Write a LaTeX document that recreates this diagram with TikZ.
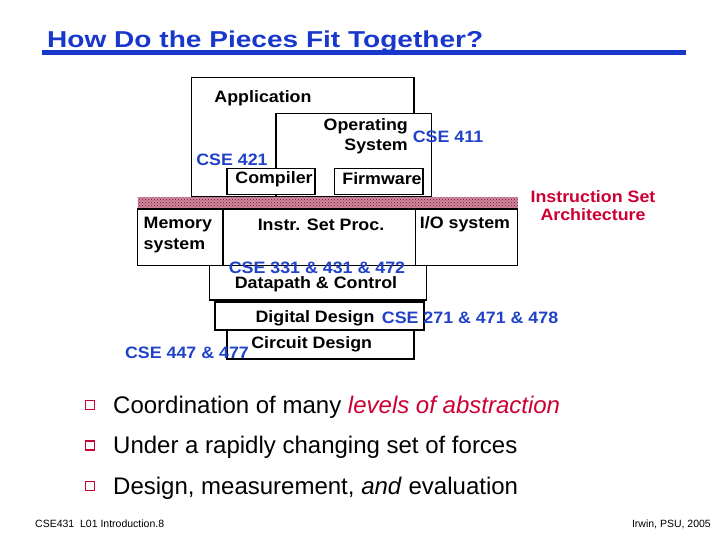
\documentclass[tikz,border=0pt]{standalone}
\usepackage{fontspec}
\setmainfont{Liberation Sans}
\newfontfamily\boxfont[FakeStretch=1.08]{Liberation Sans}
\newfontfamily\headfont[FakeStretch=1.22]{Liberation Sans}
\usepackage{tikz}
\usetikzlibrary{patterns}
\definecolor{slideblue}{RGB}{24,56,204}
\definecolor{courseblue}{RGB}{32,66,200}
\definecolor{slidered}{RGB}{204,0,51}
\definecolor{isamaroon}{RGB}{140,0,40}

\begin{document}
\begin{tikzpicture}[x=1pt,y=-1pt]
\tikzstyle{layer}=[draw=black,line width=1.7pt,fill=white]
\tikzstyle{isa bar}=[fill=isamaroon!45,postaction={pattern=crosshatch dots,pattern color=isamaroon}]
\tikzstyle{tag}=[font=\boxfont\bfseries\fontsize{16.5}{19.5}\selectfont,inner sep=0pt]
\tikzstyle{course}=[tag,text=courseblue]
\tikzstyle{point}=[font=\fontsize{24}{28}\selectfont,anchor=base west,inner sep=0pt]
\tikzstyle{tick}=[draw=slidered,line width=1.6pt,minimum size=9pt,inner sep=0pt]
\tikzstyle{foot}=[font=\fontsize{10.5}{12}\selectfont,inner sep=0pt]
\useasboundingbox (0,0) rectangle (720,540);
\node[anchor=base west,inner sep=0pt,text=slideblue,font=\headfont\bfseries\fontsize{23}{26}\selectfont] (title) at (47,47.5) {How Do the Pieces Fit Together?};
\fill[slideblue] (42,50) rectangle (686,55);
\draw[layer] (191.5,77.5) rectangle (414,197);
\draw[layer] (276,113.5) rectangle (431.5,197);
\draw[layer] (227,168.5) rectangle (315,194.5);
\draw[layer] (334.5,168.5) rectangle (423,194.5);
\fill[isa bar] (137.5,197.5) rectangle (517.5,208.5);
\draw[layer] (137.5,209) rectangle (222.8,265.5);
\draw[layer] (222.8,209) rectangle (415.6,265.5);
\draw[layer] (415.6,209) rectangle (517.5,265.5);
\draw[layer] (209.5,265.5) rectangle (426.5,300);
\draw[layer] (215,302) rectangle (424,330);
\draw[layer] (227,330) rectangle (414,359);
\node[tag] (application) at (263,98) {Application};
\node[tag,align=right,anchor=east] (operating system) at (408,136) {Operating\\System};
\node[course] (cse 411) at (448,137) {CSE 411};
\node[course] (cse 421) at (232,160) {CSE 421};
\node[tag] (compiler) at (274,179) {Compiler};
\node[tag] (firmware) at (382,179) {Firmware};
\node[tag,text=slidered,align=center,font=\boxfont\bfseries\fontsize{16.5}{18}\selectfont] (isa) at (593,206) {Instruction Set\\Architecture};
\node[tag,align=left,anchor=west] (memory) at (143.5,235.5) {Memory\\[1.5pt]system};
\node[tag] (instr set proc) at (321,224.5) {Instr. Set Proc.};
\node[tag] (io system) at (465,224.5) {I/O system};
\node[course] (cse 331) at (317,267.5) {CSE 331 \& 431 \& 472};
\node[tag] (datapath) at (316,284.5) {Datapath \& Control};
\node[tag] (digital design) at (315,318) {Digital Design};
\node[course,anchor=west] (cse 271) at (381.7,318) {CSE 271 \& 471 \& 478};
\node[tag] (circuit design) at (311.7,344.3) {Circuit Design};
\node[course] (cse 447) at (187,353.3) {CSE 447 \& 477};
\node[tick] (tick one) at (90,405) {};
\node[tick] (tick two) at (90,445.5) {};
\node[tick] (tick three) at (90,486) {};
\node[point] (coordination) at (113,413) {Coordination of many \textcolor{slidered}{\itshape levels of abstraction}};
\node[point] (forces) at (113,453.5) {Under a rapidly changing set of forces};
\node[point] (evaluation) at (113,494) {Design, measurement, \textit{and} evaluation};
\node[foot,anchor=base west] (footer left) at (35,527.5) {CSE431~ L01 Introduction.8};
\node[foot,anchor=base east] (footer right) at (711,527.5) {Irwin, PSU, 2005};
\end{tikzpicture}
\end{document}
